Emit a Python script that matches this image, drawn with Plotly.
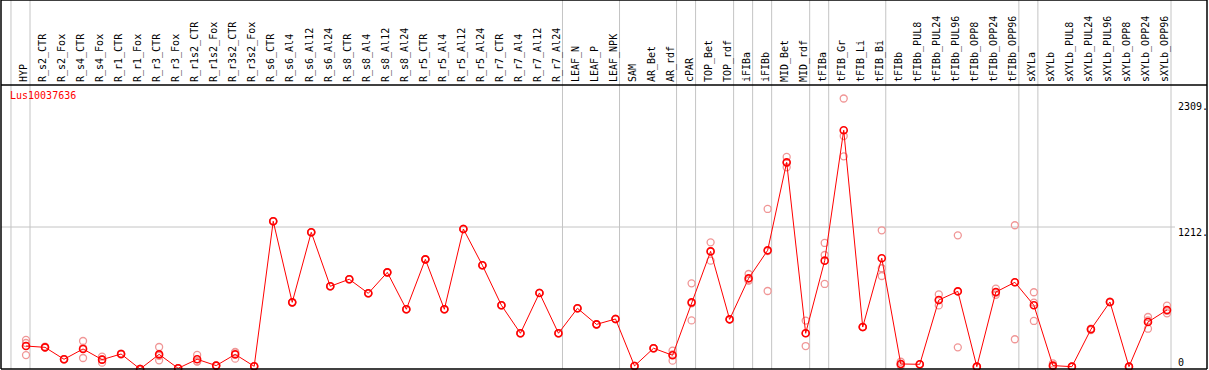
import plotly.graph_objects as go

# ---- data ----
categories = [
    "HYP", "R_s2_CTR", "R_s2_Fox", "R_s4_CTR", "R_s4_Fox", "R_r1_CTR", "R_r1_Fox",
    "R_r3_CTR", "R_r3_Fox", "R_r1s2_CTR", "R_r1s2_Fox", "R_r3s2_CTR", "R_r3s2_Fox",
    "R_s6_CTR", "R_s6_Al4", "R_s6_Al12", "R_s6_Al24", "R_s8_CTR", "R_s8_Al4",
    "R_s8_Al12", "R_s8_Al24", "R_r5_CTR", "R_r5_Al4", "R_r5_Al12", "R_r5_Al24",
    "R_r7_CTR", "R_r7_Al4", "R_r7_Al12", "R_r7_Al24", "LEAF_N", "LEAF_P", "LEAF_NPK",
    "SAM", "AR_Bet", "AR_rdf", "cPAR", "TOP_Bet", "TOP_rdf", "iFIBa", "iFIBb",
    "MID_Bet", "MID_rdf", "tFIBa", "tFIB_Gr", "tFIB_Li", "tFIB_Bi", "tFIBb",
    "tFIBb_PUL8", "tFIBb_PUL24", "tFIBb_PUL96", "tFIBb_OPP8", "tFIBb_OPP24",
    "tFIBb_OPP96", "sXYLa", "sXYLb", "sXYLb_PUL8", "sXYLb_PUL24", "sXYLb_PUL96",
    "sXYLb_OPP8", "sXYLb_OPP24", "sXYLb_OPP96",
]

mean_values = [
    196, 185, 83, 171, 80, 128, 0, 125, 6, 83, 29, 125, 23,
    1261, 569, 1167, 706, 766, 646, 825, 510, 936, 510, 1195, 885,
    544, 305, 649, 305, 518, 381, 427,
    26, 177, 117, 569, 1004, 424, 774, 1013,
    1764, 305, 925, 2038, 358, 946, 43,
    40, 589, 663, 20, 657, 740, 544, 29, 20, 339, 572, 20, 401, 504,
]

rep1 = [
    248, 190, 85, 239, 105, 132, 0, 188, 8, 120, 30, 142, 24,
    1261, 569, 1167, 706, 766, 646, 825, 510, 936, 510, 1195, 885,
    544, 305, 649, 305, 518, 381, 427,
    26, 177, 156, 731, 1081, 424, 811, 1366,
    1810, 413, 1076, 2309, 358, 1184, 62,
    40, 637, 1141, 20, 686, 1227, 655, 48, 20, 345, 575, 20, 444, 541,
]
rep2 = [
    222, 182, 80, 180, 81, 126, 0, 113, 5, 64, 28, 145, 22,
    1261, 569, 1167, 706, 766, 646, 825, 510, 936, 510, 1195, 885,
    544, 305, 649, 305, 518, 381, 427,
    26, 177, 124, 561, 1006, 424, 757, 1007,
    1760, 306, 973, 1989, 358, 860, 40,
    40, 587, 663, 20, 651, 739, 567, 20, 20, 339, 572, 20, 415, 496,
]
rep3 = [
    119, 183, 84, 94, 54, 126, 0, 74, 5, 65, 29, 88, 23,
    1261, 569, 1167, 706, 766, 646, 825, 510, 936, 510, 1195, 885,
    544, 305, 649, 305, 518, 381, 427,
    26, 177, 71, 415, 925, 424, 754, 666,
    1722, 196, 726, 1815, 358, 794, 27,
    40, 543, 185, 20, 634, 254, 410, 19, 20, 333, 569, 20, 344, 475,
]

gene_id = "Lus10037636"
y_tick_values = [2309, 1212, 0]
y_tick_text = ["2309.", "1212.", "0"]
separator_after = [-1, 0, 28, 31, 34, 35, 37, 38, 39, 41, 42, 45, 52, 53, 60]

# ---- figure ----
W, H = 1209, 370
ML, MR, MT, MB = 1, 2, 85, 1
mono = "DejaVu Sans Mono"
grid = "#c4c4c4"

xs = list(range(len(categories)))
px_per_cat = (1167 - 26) / 60.0
x0 = -(26 - ML) / px_per_cat
x1 = x0 + (W - ML - MR) / px_per_cat
y_top = 2309 * (369 - MT) / (369 - 98.5)
paper_top = 1 + MT / (H - MT - MB)

fig = go.Figure()

rx, ry = [], []
for r in (rep1, rep2, rep3):
    rx += xs
    ry += r
fig.add_trace(go.Scatter(
    x=rx, y=ry, mode="markers", cliponaxis=False, hoverinfo="skip",
    marker=dict(symbol="circle-open", size=7, color="rgb(240,150,150)",
                line=dict(width=1.3, color="rgb(240,150,150)")),
    showlegend=False,
))
fig.add_trace(go.Scatter(
    x=xs, y=mean_values, mode="lines+markers", cliponaxis=False,
    line=dict(color="#ff0000", width=1),
    marker=dict(symbol="circle-open", size=7, color="#ff0000",
                line=dict(width=1.6, color="#ff0000")),
    showlegend=False,
))

shapes = []
sep_off = 4 / px_per_cat
for s in separator_after:
    shapes.append(dict(type="line", xref="x", yref="paper", x0=s + sep_off, x1=s + sep_off,
                       y0=0, y1=paper_top, line=dict(color=grid, width=1), layer="below"))
shapes.append(dict(type="line", xref="paper", yref="y", x0=0, x1=(1175 - ML) / (W - ML - MR),
                   y0=1212, y1=1212, line=dict(color=grid, width=1), layer="below"))
# black frame
for (xa, xb, ya, yb) in [(0, 1, 1, 1), (0, 1, 0, 0), (0, 1, paper_top, paper_top),
                         (0, 0, 0, paper_top), (1, 1, 0, paper_top)]:
    shapes.append(dict(type="line", xref="paper", yref="paper", x0=xa, x1=xb, y0=ya, y1=yb,
                       line=dict(color="black", width=1.5)))

annotations = [dict(text=gene_id, xref="paper", yref="paper",
                    x=(8 - ML) / (W - ML - MR), y=(369 - 96) / (H - MT - MB),
                    xanchor="left", yanchor="middle", showarrow=False,
                    font=dict(family=mono, size=10, color="#ff0000"))]
yshifts = [-8, -5, 7]
for v, t, sh in zip(y_tick_values, y_tick_text, yshifts):
    annotations.append(dict(text=t, xref="paper", yref="y",
                            x=(1176 - ML) / (W - ML - MR), y=v, yshift=sh,
                            xanchor="left", yanchor="middle", showarrow=False,
                            font=dict(family=mono, size=10, color="black")))

fig.update_layout(
    width=W, height=H,
    margin=dict(l=ML, r=MR, t=MT, b=MB, pad=0),
    paper_bgcolor="white", plot_bgcolor="white",
    xaxis=dict(range=[x0, x1], side="top", tickmode="array", tickvals=xs,
               ticktext=categories, tickangle=-90, ticks="", showgrid=False,
               zeroline=False, showline=False, automargin=False,
               ticklabelstandoff=2, ticklabelshift=-2,
               tickfont=dict(family=mono, size=10, color="black")),
    yaxis=dict(range=[0, y_top], showgrid=False, zeroline=False, showline=False,
               showticklabels=False, ticks=""),
    shapes=shapes, annotations=annotations,
)

fig.write_html("out.html", config={"displayModeBar": False},
               post_script="document.body.style.margin='0';document.body.style.overflow='hidden';")
